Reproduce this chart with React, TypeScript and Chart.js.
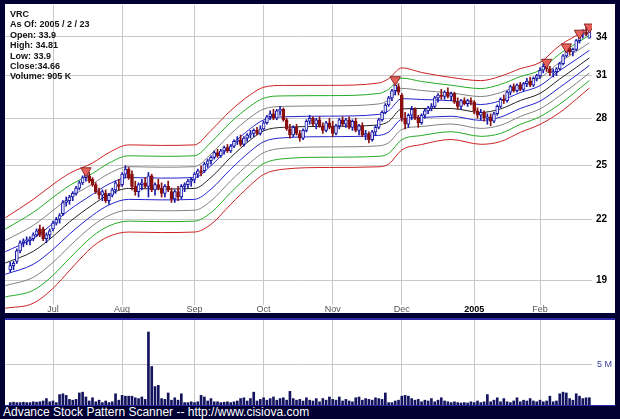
import React, { useEffect, useRef } from "react";
import { Chart, registerables } from "chart.js";
Chart.register(...registerables);

const FONT = 'Arial, "Liberation Sans", Helvetica, sans-serif';

// ---- daily OHLC (trading days from 2004-06-14 to 2005-02-23) ----
const opens = [
  19.5,19.7,19.9,20.4,20.8,20.9,20.9,21.0,21.2,21.5,
  21.5,21.0,21.2,21.5,21.8,22.0,22.3,22.9,23.0,23.2,
  23.4,23.7,24.0,24.3,24.4,24.2,23.9,23.5,23.3,23.4,
  23.0,23.3,23.6,23.9,23.9,24.5,24.8,24.5,23.8,23.5,
  23.9,24.0,23.8,24.4,23.6,23.9,23.7,23.4,23.8,23.5,
  23.1,23.5,23.2,23.8,23.9,24.1,24.2,24.5,24.7,24.7,
  25.1,25.3,25.5,25.8,25.6,25.9,26.1,25.9,26.2,26.5,
  26.6,26.3,26.7,26.9,27.0,27.2,27.0,27.3,27.7,28.1,
  28.3,28.0,28.5,28.6,27.9,27.3,26.9,27.4,27.0,26.7,
  27.2,27.8,28.0,27.6,27.9,27.5,27.2,27.7,27.4,27.0,
  27.5,27.9,27.6,27.9,27.4,27.8,27.2,27.5,26.9,27.0,
  26.6,27.1,27.4,27.9,28.4,28.9,29.4,29.9,30.2,29.6,
  28.0,27.6,28.2,28.6,28.0,27.7,28.2,28.5,28.7,28.8,
  29.4,29.6,29.5,29.8,29.5,29.7,29.1,28.8,29.2,29.0,
  29.2,29.1,28.5,28.2,28.4,28.0,28.1,27.8,28.3,28.8,
  29.3,29.2,29.8,30.2,29.9,30.3,30.0,30.4,30.6,30.3,
  30.8,31.0,31.4,31.7,31.5,31.2,31.3,31.5,31.9,32.5,
  33.1,32.8,33.0,33.7,34.2,34.4,33.9,
];
const highs = [
  19.85,19.9,20.5,20.9,21.0,21.1,21.1,21.3,21.5,21.7,
  21.6,21.3,21.5,21.9,22.1,22.3,23.0,23.2,23.3,23.5,
  23.8,24.1,24.4,24.7,24.6,24.3,24.0,23.7,23.6,23.6,
  23.4,23.7,24.1,24.2,24.6,25.0,24.9,24.7,24.1,24.0,
  24.2,24.3,24.6,24.5,24.0,24.2,24.0,23.9,24.1,23.7,
  23.6,23.8,23.9,24.0,24.2,24.3,24.6,24.8,25.0,25.2,
  25.4,25.6,25.9,26.0,26.0,26.2,26.3,26.3,26.6,26.8,
  26.9,26.8,27.0,27.2,27.3,27.4,27.5,27.8,28.2,28.5,
  28.6,28.6,28.8,28.7,28.0,27.6,27.5,27.6,27.2,27.3,
  27.9,28.2,28.1,28.0,28.1,27.7,27.8,28.0,27.8,27.6,
  28.0,28.1,28.0,28.1,27.9,28.0,27.6,27.7,27.2,27.1,
  27.2,27.5,28.0,28.5,29.0,29.5,30.0,30.7,30.4,29.7,
  28.4,28.3,28.8,28.7,28.2,28.3,28.6,28.8,29.0,29.5,
  29.7,30.0,29.9,30.1,29.8,29.8,29.4,29.3,29.4,29.3,
  29.4,29.2,28.7,28.6,28.5,28.3,28.3,28.4,28.9,29.4,
  29.6,29.9,30.3,30.4,30.4,30.5,30.5,30.8,30.9,30.9,
  31.1,31.6,31.9,32.0,31.7,31.5,31.6,32.0,32.6,33.2,
  33.4,33.1,33.8,34.3,34.6,35.0,34.81,
];
const lows = [
  19.4,19.5,19.8,20.3,20.6,20.7,20.7,20.9,21.1,21.1,
  20.9,20.8,21.0,21.4,21.7,21.8,22.2,22.7,22.8,23.0,
  23.3,23.6,23.9,24.1,24.0,23.8,23.4,23.1,23.0,22.9,
  22.8,23.2,23.4,23.6,23.8,24.3,24.2,23.6,23.3,23.2,
  23.6,23.7,23.2,23.5,23.3,23.6,23.2,23.2,23.5,22.9,
  22.9,23.0,23.1,23.5,23.7,23.8,24.0,24.3,24.4,24.6,
  24.9,25.1,25.4,25.5,25.5,25.7,25.8,25.8,26.1,26.3,
  26.2,26.2,26.5,26.7,26.8,26.9,26.9,27.2,27.6,27.9,
  27.9,27.9,28.2,27.8,27.2,26.7,26.8,26.9,26.5,26.6,
  27.1,27.6,27.5,27.3,27.4,27.0,27.1,27.3,26.8,26.9,
  27.3,27.5,27.4,27.3,27.2,27.1,26.9,26.8,26.6,26.4,
  26.5,26.9,27.3,27.8,28.3,28.8,29.2,29.6,29.6,27.8,
  27.3,27.4,27.9,27.9,27.4,27.6,28.0,28.3,28.5,28.7,
  29.1,29.3,29.3,29.4,29.2,29.0,28.6,28.6,28.9,28.8,
  28.9,28.3,28.0,27.9,27.8,27.6,27.5,27.7,28.2,28.7,
  29.0,29.1,29.6,29.8,29.8,29.9,29.9,30.2,30.2,30.2,
  30.6,30.8,31.2,31.3,31.0,30.9,31.0,31.4,31.8,32.4,
  32.6,32.5,32.9,33.5,33.9,34.1,33.9,
];
const closes = [
  19.7,19.8,20.4,20.8,20.9,20.95,21.0,21.2,21.4,21.2,
  21.0,21.2,21.4,21.8,22.0,22.2,22.9,23.0,23.2,23.4,
  23.7,24.0,24.3,24.5,24.1,23.9,23.5,23.3,23.5,23.0,
  23.3,23.6,24.0,23.8,24.5,24.8,24.3,23.8,23.5,23.9,
  24.0,23.8,24.4,23.6,23.9,23.7,23.4,23.8,23.6,23.1,
  23.5,23.2,23.8,23.9,24.1,24.2,24.5,24.7,24.6,25.1,
  25.3,25.5,25.8,25.6,25.9,26.1,25.9,26.2,26.5,26.6,
  26.3,26.7,26.9,27.0,27.2,27.0,27.3,27.7,28.1,28.3,
  28.0,28.5,28.6,27.9,27.3,26.9,27.4,27.0,26.7,27.2,
  27.8,28.0,27.6,27.9,27.5,27.2,27.7,27.4,27.0,27.5,
  27.9,27.6,27.9,27.4,27.8,27.2,27.5,26.9,27.0,26.6,
  27.1,27.4,27.9,28.4,28.9,29.4,29.9,30.3,29.8,28.0,
  27.6,28.2,28.6,28.0,27.7,28.2,28.5,28.7,28.8,29.4,
  29.6,29.5,29.8,29.5,29.7,29.1,28.8,29.2,29.0,29.2,
  29.1,28.5,28.2,28.4,28.0,28.1,27.8,28.3,28.8,29.3,
  29.2,29.8,30.2,29.9,30.3,30.0,30.4,30.6,30.3,30.8,
  31.0,31.4,31.7,31.5,31.2,31.3,31.5,31.9,32.5,33.1,
  32.8,33.0,33.7,34.2,34.4,34.2,34.66,
];
// volume in millions of shares
const volumeM = [
  0.3,0.35,0.3,0.3,0.35,0.3,0.3,0.4,0.35,0.4,
  0.5,0.8,0.4,0.5,0.3,1.3,1.4,1.2,0.7,0.6,
  0.7,1.5,1.6,1.0,0.5,0.9,0.4,0.6,0.3,0.5,
  0.3,0.4,1.4,0.6,1.2,1.1,1.1,1.1,0.9,0.8,
  1.0,0.7,9.1,4.8,2.3,2.45,0.8,0.7,1.5,0.6,
  0.9,0.6,1.4,0.3,0.3,0.4,0.3,0.4,1.2,1.0,
  0.5,0.8,0.4,0.4,0.3,0.35,0.4,0.3,0.4,0.5,
  0.8,0.9,0.5,0.8,1.6,0.5,0.7,0.9,0.6,0.8,
  1.0,0.6,0.8,0.9,0.6,1.7,0.8,0.6,0.7,0.5,
  0.9,0.6,0.5,0.8,0.4,0.8,0.6,1.0,0.7,0.6,
  1.0,0.5,0.7,0.5,0.4,0.9,1.0,0.6,0.8,0.7,
  0.6,0.9,0.8,0.7,1.5,0.3,0.3,0.5,0.6,1.1,
  1.2,1.1,0.8,0.6,0.7,0.4,0.6,0.5,0.8,0.4,
  0.6,0.9,0.5,0.4,0.3,0.4,0.3,0.25,0.3,0.25,
  0.4,0.3,0.5,0.3,0.4,1.3,0.4,0.6,0.9,0.4,
  0.8,0.4,0.3,0.5,0.9,0.4,0.6,0.5,0.8,0.5,
  0.4,0.6,0.4,0.5,1.1,0.4,0.5,1.4,1.6,1.5,
  0.8,0.6,1.4,1.1,0.8,0.9,0.905,
];

// envelope (center line + band step %) sampled at these day indices
const envIdx = [-1.5, 7, 13, 18, 25, 30, 36, 46, 56, 61, 67, 73, 77, 83, 97, 112, 115, 119, 125, 134, 143, 149, 155, 161, 167, 172, 176];
const envMid = [19.82, 20.38, 21.12, 21.86, 22.77, 23.34, 23.68, 23.65, 23.68, 24.31, 25.5, 26.59, 27.17, 27.4, 27.46, 27.56, 27.79, 28.63, 28.66, 28.66, 28.39, 28.63, 29.21, 29.71, 30.75, 31.61, 32.34];
const envStep = [2.7, 3.1, 3.1, 2.9, 2.5, 2.5, 2.6, 2.6, 2.6, 2.8, 2.8, 2.7, 2.6, 2.5, 2.45, 2.5, 2.55, 2.45, 2.15, 1.85, 1.9, 1.95, 1.9, 1.85, 2.0, 1.9, 1.8];
const bandLevels = [4, 3, 2, 1, 0, -1, -2, -3, -4];
const bandColors = ["#cc2222", "#22aa22", "#808080", "#2222cc", "#222222", "#2222cc", "#808080", "#22aa22", "#cc2222"];

// sell-signal markers (day indices)
const markerIdx = [23, 117, 163, 169, 173, 176];

// axis ticks
const monthTickIdx = [13, 34, 56, 77, 98, 119, 141, 161];
const monthTickLabels = ["Jul", "Aug", "Sep", "Oct", "Nov", "Dec", "2005", "Feb"];
const priceTicks = [19, 22, 25, 28, 31, 34];
const volumeTicks = [5];

const X_MIN = -1.59;
const X_MAX = 176.8;
const GRID = "#c8c8c8";

function monthLabel(v: number) {
  const k = monthTickIdx.indexOf(v);
  return k >= 0 ? monthTickLabels[k] : "";
}

function zeroPad(s: any) {
  s.paddingLeft = 0;
  s.paddingRight = 0;
  s.paddingTop = 0;
  s.paddingBottom = 0;
}

export default function App() {
  const mainRef = useRef<HTMLCanvasElement | null>(null);
  const volRef = useRef<HTMLCanvasElement | null>(null);

  useEffect(() => {
    const isUp = (i: number) => closes[i] >= opens[i];
    const UP = "#1a1aa8";
    const DOWN = "#8a1010";

    const envDatasets = bandLevels.map((k, j) => ({
      type: "line" as const,
      data: envIdx.map((x, n) => ({ x, y: envMid[n] * Math.exp((k * envStep[n]) / 100) })),
      borderColor: bandColors[j],
      borderWidth: 1,
      pointRadius: 0,
      cubicInterpolationMode: "monotone" as const,
      clip: false as any,
      order: 10,
    }));

    const xScale = (labels: boolean, height: number) => ({
      type: "linear",
      min: X_MIN,
      max: X_MAX,
      offset: false,
      afterBuildTicks: (s: any) => {
        s.ticks = monthTickIdx.map((v) => ({ value: v }));
      },
      afterFit: (s: any) => {
        s.height = height;
        zeroPad(s);
      },
      grid: { color: GRID, drawTicks: false, lineWidth: 1, offset: false },
      border: { display: false },
      ticks: labels
        ? {
            autoSkip: false,
            maxRotation: 0,
            padding: -1,
            callback: (v: any) => monthLabel(v),
            font: (c: any) => ({
              family: FONT,
              size: 9,
              weight: c.tick && c.tick.value === 141 ? "bold" : "normal",
            }),
            color: (c: any) => (c.tick && c.tick.value === 141 ? "#000" : "#555"),
          }
        : { display: false },
    });

    const main = new Chart(mainRef.current!, {
      type: "bar",
      data: {
        datasets: [
          {
            type: "line",
            data: markerIdx.map((i) => ({ x: i, y: highs[i] })),
            showLine: false,
            pointStyle: "triangle",
            pointRotation: 180,
            pointRadius: 6,
            pointBackgroundColor: "#e8605a",
            pointBorderColor: "#8a2a2a",
            pointBorderWidth: 1,
            order: 1,
          } as any,
          {
            type: "bar",
            data: opens.map((o, i) => ({ x: i, y: [o, closes[i]] })),
            backgroundColor: opens.map((_, i) => (isUp(i) ? "#e8e8ff" : DOWN)),
            borderColor: opens.map((_, i) => (isUp(i) ? UP : DOWN)),
            borderWidth: 1,
            borderSkipped: false,
            barThickness: 3,
            minBarLength: 1,
            grouped: false,
            order: 2,
          } as any,
          {
            type: "bar",
            data: lows.map((l, i) => ({ x: i, y: [l, highs[i]] })),
            backgroundColor: opens.map((_, i) => (isUp(i) ? UP : DOWN)),
            borderWidth: 0,
            barThickness: 1,
            grouped: false,
            order: 3,
          } as any,
          ...(envDatasets as any[]),
        ],
      },
      options: {
        animation: false,
        responsive: false,
        events: [],
        layout: { autoPadding: false, padding: { top: 1, left: 0, right: 0, bottom: 0 } },
        plugins: { legend: { display: false }, tooltip: { enabled: false } },
        scales: {
          x: xScale(true, 8),
          y: {
            type: "logarithmic",
            position: "right",
            min: 17.93,
            max: 36.69,
            afterBuildTicks: (s: any) => {
              s.ticks = priceTicks.map((v) => ({ value: v }));
            },
            afterFit: (s: any) => {
              s.width = 23;
              zeroPad(s);
            },
            grid: { color: GRID, drawTicks: false },
            border: { display: false },
            ticks: {
              padding: 4,
              callback: (v: any) => String(v),
              font: { family: FONT, size: 10, weight: "bold" },
              color: "#000",
            },
          },
        },
      } as any,
    });

    const vol = new Chart(volRef.current!, {
      type: "bar",
      data: {
        datasets: [
          {
            data: volumeM.map((v, i) => ({ x: i, y: v })),
            backgroundColor: "#14145e",
            barThickness: 2,
            borderWidth: 0,
          } as any,
        ],
      },
      options: {
        animation: false,
        responsive: false,
        events: [],
        layout: { autoPadding: false, padding: 0 },
        plugins: { legend: { display: false }, tooltip: { enabled: false } },
        scales: {
          x: xScale(false, 0),
          y: {
            type: "linear",
            position: "right",
            min: 0,
            max: 10.6,
            afterBuildTicks: (s: any) => {
              s.ticks = volumeTicks.map((v) => ({ value: v }));
            },
            afterFit: (s: any) => {
              s.width = 23;
              zeroPad(s);
            },
            grid: { color: GRID, drawTicks: false },
            border: { display: false },
            ticks: {
              padding: 5,
              callback: (v: any) => v + " M",
              font: { family: FONT, size: 9 },
              color: "#3a3aa0",
            },
          },
        },
      } as any,
    });

    return () => {
      main.destroy();
      vol.destroy();
    };
  }, []);

  const infoLines = ["VRC", "As Of: 2005 / 2 / 23", "Open: 33.9", "High: 34.81", "Low: 33.9", "Close:34.66", "Volume: 905 K"];

  return (
    <div
      style={{
        position: "fixed",
        left: 0,
        top: 0,
        width: 620,
        height: 419,
        background: "#000033",
        overflow: "hidden",
        fontFamily: FONT,
      }}
    >
      <div style={{ position: "absolute", left: 5, top: 4, width: 610, height: 309, background: "#fff" }}>
        <canvas ref={mainRef} width={610} height={309} style={{ width: 610, height: 309, display: "block" }} />
        <div style={{ position: "absolute", left: 5, top: 5, fontSize: 9, fontWeight: "bold", color: "#111", lineHeight: "10.4px" }}>
          {infoLines.map((t) => (
            <div key={t}>{t}</div>
          ))}
        </div>
      </div>
      <div style={{ position: "absolute", left: 5, top: 318, width: 610, height: 2, background: "#2a2aa8" }} />
      <div style={{ position: "absolute", left: 5, top: 320, width: 610, height: 85, background: "#fff" }}>
        <canvas ref={volRef} width={610} height={85} style={{ width: 610, height: 85, display: "block" }} />
      </div>
      <div style={{ position: "absolute", left: 5, top: 405, width: 610, height: 1, background: "#2a2aa8" }} />
      <div
        style={{
          position: "absolute",
          left: 3,
          top: 405,
          fontSize: 12,
          color: "#fff",
          lineHeight: "14px",
          whiteSpace: "nowrap",
        }}
      >
        Advance Stock Pattern Scanner -- http://www.cisiova.com
      </div>
    </div>
  );
}
